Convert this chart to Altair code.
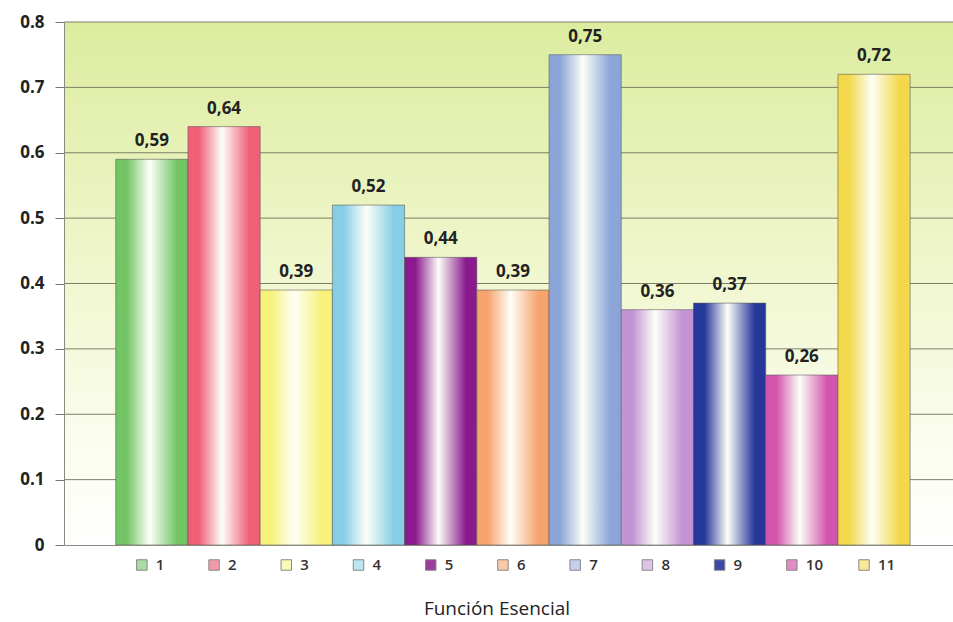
import altair as alt
import pandas as pd

cats = ["1", "2", "3", "4", "5", "6", "7", "8", "9", "10", "11"]
values = [0.59, 0.64, 0.39, 0.52, 0.44, 0.39, 0.75, 0.36, 0.37, 0.26, 0.72]
bar_colors = ["#72c465", "#ef5f78", "#f8f27c", "#86cde6", "#8b1a8f", "#f7a36e",
              "#8ba5d8", "#c393d3", "#26379a", "#d455ad", "#f2d84a"]
legend_colors = ["#a9dca0", "#f29aa8", "#fbf8b8", "#bde4f1", "#9a3c9c", "#f9c8a6",
                 "#c4d0ec", "#ddc4e6", "#3a4aa6", "#e08cc6", "#f7e89a"]
y_ticks = [0.1, 0.2, 0.3, 0.4, 0.5, 0.6, 0.7, 0.8]
x_title = "Función Esencial"

FONT = "Open Sans"
W, H = 889, 523

df = pd.DataFrame({
    "cat": cats,
    "value": values,
    "label": [f"{v:.2f}".replace(".", ",") for v in values],
})

xscale = alt.Scale(domain=cats, paddingInner=0, paddingOuter=0.655, align=0.547)
yscale = alt.Scale(domain=[0, 0.8], nice=False)

y_axis = alt.Axis(values=[0] + y_ticks, format=".1~f", grid=False, title=None,
                  labelFont=FONT, labelFontSize=17, labelFontWeight="bold",
                  labelColor="#222222", tickSize=9, tickColor="#777777",
                  domainColor="#8a8a80", labelPadding=11, zindex=1)

x_enc = alt.X("cat:N", scale=xscale, sort=cats,
              axis=alt.Axis(labels=False, ticks=False, title=None, domain=True,
                            domainColor="#8a8a80", grid=False, zindex=1))
y_enc = alt.Y("value:Q", scale=yscale, axis=y_axis, title=None)

bg = alt.Chart(pd.DataFrame({"a": [0]})).mark_rect(
    color={"gradient": "linear", "x1": 0, "x2": 0, "y1": 0, "y2": 1,
           "stops": [{"offset": 0, "color": "#dcec9f"},
                     {"offset": 0.45, "color": "#eff6cb"},
                     {"offset": 0.8, "color": "#fbfdee"},
                     {"offset": 1, "color": "#ffffff"}]}
).encode(x=alt.value(0), x2=alt.value(W), y=alt.value(0), y2=alt.value(H))

grid = alt.Chart(pd.DataFrame({"value": y_ticks})).mark_rule(
    color="#7d7f66", strokeWidth=1
).encode(y=y_enc)

layers = [bg, grid]
for c, col in zip(cats, bar_colors):
    grad = {"gradient": "linear", "x1": 0, "x2": 1, "y1": 0, "y2": 0,
            "stops": [{"offset": 0, "color": col},
                      {"offset": 0.15, "color": col},
                      {"offset": 0.47, "color": "#fdfff8"},
                      {"offset": 0.85, "color": col},
                      {"offset": 1, "color": col}]}
    layers.append(
        alt.Chart(df).transform_filter(alt.datum.cat == c)
        .mark_bar(color=grad, stroke="#555555", strokeOpacity=0.55, strokeWidth=1)
        .encode(x=x_enc, y=y_enc)
    )

text = alt.Chart(df).mark_text(
    dy=-13, baseline="alphabetic", font=FONT, fontSize=17, fontWeight="bold", color="#222222"
).encode(x=alt.X("cat:N", scale=xscale, sort=cats), y=y_enc, text="label:N")

leg_sq = alt.Chart(df).mark_square(
    size=110, opacity=1, stroke="#888888", strokeWidth=1, xOffset=-10
).encode(
    x=alt.X("cat:N", scale=xscale, sort=cats),
    y=alt.value(H + 20),
    color=alt.Color("cat:N", scale=alt.Scale(domain=cats, range=legend_colors), legend=None),
)

leg_tx = alt.Chart(df).mark_text(
    align="left", baseline="middle", dx=4, font=FONT, fontSize=15, fontWeight=600,
    color="#333333"
).encode(x=alt.X("cat:N", scale=xscale, sort=cats), y=alt.value(H + 20), text="cat:N")

title = alt.Chart(pd.DataFrame({"t": [x_title]})).mark_text(
    align="center", baseline="alphabetic", font=FONT, fontSize=19, color="#222222"
).encode(x=alt.value(433), y=alt.value(H + 70), text="t:N")

chart = alt.layer(*layers, text, leg_sq, leg_tx, title).properties(
    width=W, height=H,
    autosize=alt.AutoSizeParams(type="none"),
    padding={"left": 64, "top": 22, "right": 0, "bottom": 77},
).configure_view(stroke=None).configure(background="white")

chart.save("out.html", embed_options={"renderer": "svg", "actions": False})
